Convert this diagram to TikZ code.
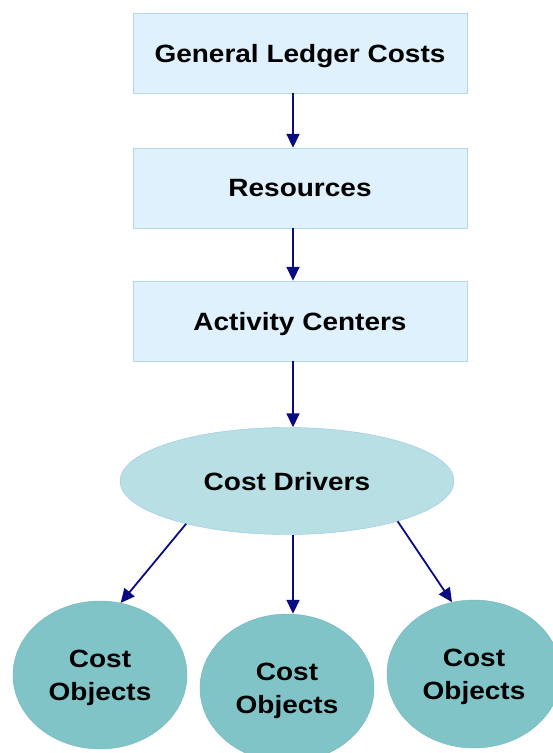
\documentclass[tikz,border=0pt]{standalone}
\usepackage{fontspec}
\setmainfont{Liberation Sans}[FakeStretch=1.12]
\usepackage{tikz}
\usetikzlibrary{arrows.meta, shapes.geometric, positioning}
\usepackage{xcolor}
\definecolor{ledgerblue}{RGB}{223, 241, 252}
\definecolor{ledgeredge}{RGB}{178, 218, 228}
\definecolor{driverteal}{RGB}{184, 223, 228}
\definecolor{driveredge}{RGB}{150, 196, 236}
\definecolor{objectteal}{RGB}{128, 196, 200}
\definecolor{objectedge}{RGB}{112, 182, 188}
\definecolor{flownavy}{RGB}{10, 10, 130}

\begin{document}
\begin{tikzpicture}[x=1pt, y=-1pt,
    every node/.style={font=\bfseries\fontsize{25}{33}\selectfont, align=center, inner sep=0pt, text depth=0pt},
    stagebox/.style={draw=ledgeredge, fill=ledgerblue, rectangle, minimum width=334pt, minimum height=80pt},
    driverell/.style={draw=driveredge, fill=driverteal, ellipse, minimum width=334pt, minimum height=107pt},
    objectell/.style={draw=objectedge, fill=objectteal, ellipse, minimum width=174pt, minimum height=148pt},
    flow/.style={draw=flownavy, line width=1.8pt, -{Triangle[length=14pt, width=13pt]}}]
    \useasboundingbox (0,0) rectangle (553,753);
    \node[stagebox] (ledger) at (300,53) {General Ledger Costs};
    \node[stagebox] (res) at (300,188) {Resources};
    \node[stagebox] (centers) at (300,321) {Activity Centers};
    \node[driverell] (drivers) at (287,481) {Cost Drivers};
    \node[objectell] (obja) at (100,675) {Cost\\Objects};
    \node[objectell] (objb) at (287,688) {Cost\\Objects};
    \node[objectell] (objc) at (474,674) {Cost\\Objects};
    \draw[flow] ([xshift=-7pt]ledger.south) -- ([xshift=-7pt]res.north);
    \draw[flow] ([xshift=-7pt]res.south) -- ([xshift=-7pt]centers.north);
    \draw[flow] ([xshift=-7pt]centers.south) -- ([xshift=6pt]drivers.north);
    \draw[flow] (drivers.203) -- (obja.74);
    \draw[flow] ([xshift=6pt]drivers.south) -- ([xshift=6pt]objb.north);
    \draw[flow] (drivers.340) -- (objc.107);
\end{tikzpicture}
\end{document}
